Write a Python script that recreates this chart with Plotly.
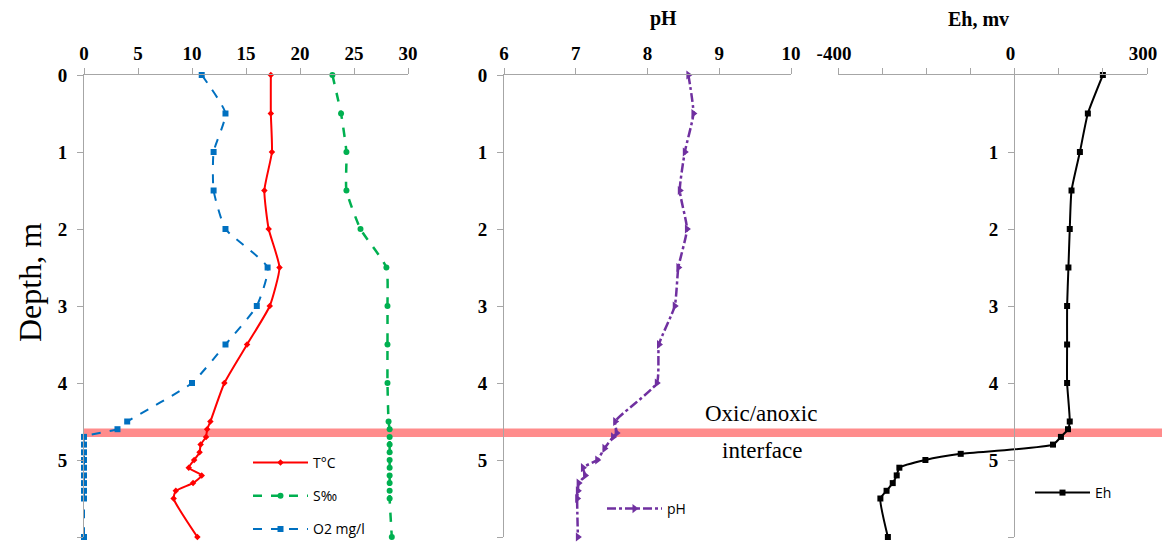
import plotly.graph_objects as go

W, H = 1162, 546

# ---------------- data ----------------
depth_main = [0, 0.5, 1, 1.5, 2, 2.5, 3, 3.5, 4, 4.5, 4.6, 4.7, 4.8, 4.9, 5.0, 5.1, 5.2, 5.3, 5.4, 5.5, 6]
temp = [17.3, 17.3, 17.4, 16.7, 17.1, 18.1, 17.2, 15.1, 13.0, 11.7, 11.4, 11.3, 10.8, 10.7, 10.2, 9.7, 10.9, 10.1, 8.5, 8.3, 10.5]
sal = [23.0, 23.8, 24.3, 24.3, 25.6, 28.0, 28.1, 28.1, 28.1, 28.2, 28.3, 28.3, 28.3, 28.3, 28.3, 28.3, 28.3, 28.3, 28.3, 28.3, 28.5]
o2 = [10.9, 13.1, 12.0, 12.0, 13.1, 17.0, 16.0, 13.1, 10.0, 4.0, 3.1, 0.0, 0.0, 0.0, 0.0, 0.0, 0.0, 0.0, 0.0, 0.0, 0.0]

depth_ph = [0, 0.5, 1, 1.5, 2, 2.5, 3, 3.5, 4, 4.5, 4.65, 4.7, 4.85, 5.0, 5.1, 5.2, 5.3, 5.4, 5.5, 6]
ph = [8.57, 8.64, 8.52, 8.45, 8.55, 8.43, 8.38, 8.16, 8.13, 7.55, 7.57, 7.52, 7.40, 7.30, 7.10, 7.13, 7.04, 7.03, 7.02, 7.03]

depth_eh = [0, 0.5, 1, 1.5, 2, 2.5, 3, 3.5, 4, 4.5, 4.6, 4.7, 4.8, 4.92, 5.0, 5.1, 5.2, 5.3, 5.4, 5.5, 6]
eh = [200, 166, 148, 129, 125, 122, 119, 119, 119, 125, 121, 105, 87, -122, -202, -261, -267, -276, -290, -304, -287]

t_ticks = [0, 5, 10, 15, 20, 25, 30]
ph_ticks = [6, 7, 8, 9, 10]
eh_tickvals = [-400, -300, -200, -100, 0, 100, 200, 300]
eh_ticktext = ["-400", "", "", "", "0", "", "", "300"]
depth_ticks = [0, 1, 2, 3, 4, 5, 6]
interface_depth = (4.59, 4.70)

# ---------------- layout helpers (page pixel -> paper fraction) ----------------
def px(x):
    return x / W

def py(y):
    return 1 - y / H

ydom = [py(537), py(75)]
serif = "Liberation Serif"
sans = "Open Sans"
axis_grey = "#A6A6A6"

fig = go.Figure()

fig.add_trace(go.Scatter(x=temp, y=depth_main, name="T\u00b0C", mode="lines+markers",
                         line=dict(color="#FF0000", width=2, shape="spline", smoothing=0.5),
                         marker=dict(symbol="diamond", size=5, color="#FF0000"),
                         xaxis="x", yaxis="y", legend="legend", legendgroup="a", cliponaxis=False))
fig.add_trace(go.Scatter(x=sal, y=depth_main, name="S\u2030", mode="lines+markers",
                         line=dict(color="#00B050", width=2.5, dash="dash", shape="spline", smoothing=0.5),
                         marker=dict(symbol="circle", size=6, color="#00B050"),
                         xaxis="x", yaxis="y", legend="legend", legendgroup="b", cliponaxis=False))
fig.add_trace(go.Scatter(x=o2, y=depth_main, name="O2 mg/l", mode="lines+markers",
                         line=dict(color="#0070C0", width=2, dash="dash", shape="spline", smoothing=0.5),
                         marker=dict(symbol="square", size=6, color="#0070C0"),
                         xaxis="x", yaxis="y", legend="legend", legendgroup="c", cliponaxis=False))
fig.add_trace(go.Scatter(x=ph, y=depth_ph, name="pH", mode="lines+markers",
                         line=dict(color="#7030A0", width=2.5, dash="dashdot", shape="spline", smoothing=0.5),
                         marker=dict(symbol="triangle-right", size=8, color="#7030A0"),
                         xaxis="x2", yaxis="y2", legend="legend2", cliponaxis=False))
fig.add_trace(go.Scatter(x=eh, y=depth_eh, name="Eh", mode="lines+markers",
                         line=dict(color="#000000", width=2, shape="spline", smoothing=0.5),
                         marker=dict(symbol="square", size=6, color="#000000"),
                         xaxis="x3", yaxis="y3", legend="legend3", cliponaxis=False))

tickfont = dict(family=serif, size=19, color="black", weight="bold")

def xax(dom, anchor, rng, tv, tt=None, shift=0):
    d = dict(domain=dom, anchor=anchor, side="top", range=rng, showgrid=False, zeroline=False,
             showline=True, linecolor=axis_grey, linewidth=1, ticks="outside", ticklen=6,
             tickcolor=axis_grey, tickvals=tv, tickfont=tickfont, fixedrange=True, automargin=False,
             ticklabelshift=shift)
    if tt is not None:
        d["ticktext"] = tt
    return d

def yax(anchor, tv, position=None):
    d = dict(domain=ydom, range=[6, 0], showgrid=False, zeroline=False, showline=True,
             linecolor=axis_grey, linewidth=1, ticks="outside", ticklen=6, tickcolor=axis_grey,
             tickvals=tv, tickfont=tickfont, ticklabelstandoff=6, fixedrange=True, automargin=False)
    if position is None:
        d["anchor"] = anchor
    else:
        d["anchor"] = "free"
        d["position"] = position
    return d

def label(text, x, y, size, bold=False, angle=0):
    f = dict(family=serif, size=size, color="black")
    if bold:
        f["weight"] = "bold"
    return dict(text=text, x=px(x), y=py(y), xref="paper", yref="paper", showarrow=False,
                xanchor="center", yanchor="middle", textangle=angle, font=f)

legfont = dict(family=sans, size=14, color="black")

fig.update_layout(
    width=W, height=H,
    margin=dict(l=0, r=0, t=0, b=0),
    paper_bgcolor="white", plot_bgcolor="rgba(0,0,0,0)",
    xaxis=xax([px(84), px(408)], "y", [0, 30], t_ticks),
    yaxis=yax("x", depth_ticks),
    xaxis2=xax([px(504), px(791)], "y2", [6, 10], ph_ticks),
    yaxis2=yax("x2", depth_ticks),
    xaxis3=xax([px(838), px(1147)], "y3", [-400, 300], eh_tickvals, eh_ticktext, shift=-4),
    yaxis3=yax(None, [1, 2, 3, 4, 5, 6], position=px(1014)),
    legend=dict(x=px(248), y=py(447), xanchor="left", yanchor="top", bgcolor="rgba(0,0,0,0)",
                font=legfont, tracegroupgap=12, traceorder="grouped", itemwidth=55),
    legend2=dict(x=px(602), y=py(493), xanchor="left", yanchor="top", bgcolor="rgba(0,0,0,0)",
                 font=legfont, itemwidth=55),
    legend3=dict(x=px(1030), y=py(477), xanchor="left", yanchor="top", bgcolor="rgba(0,0,0,0)",
                 font=legfont, itemwidth=55),
    shapes=[dict(type="rect", xref="paper", yref="y", x0=px(84), x1=1.0,
                 y0=interface_depth[0], y1=interface_depth[1],
                 fillcolor="#FF8C8C", line=dict(width=0), layer="below")],
    annotations=[
        label("Depth, m", 30, 283, 32, angle=-90),
        label("pH", 663, 19, 20, bold=True),
        label("Eh, mv", 978, 19, 20, bold=True),
        label("Oxic/anoxic", 761, 413, 23),
        label("interface", 762, 450, 23),
    ],
)

# remove the default page margin so the 1162x546 figure fills the window exactly
fig.write_html(
    "out.html",
    config={"displayModeBar": False},
    post_script="document.body.style.margin='0';document.body.style.overflow='hidden';"
                "document.documentElement.style.overflow='hidden';",
)
